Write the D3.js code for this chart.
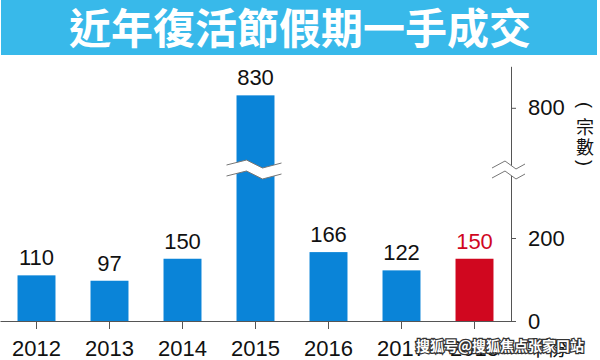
<!DOCTYPE html>
<html>
<head>
<meta charset="utf-8">
<script src="https://cdn.jsdelivr.net/npm/d3@7"></script>
<style>
  body { margin: 0; background: #fff; }
  svg { display: block; }
</style>
</head>
<body>
<div id="chart"></div>
<script>
// data
var years = ["2012", "2013", "2014", "2015", "2016", "2017", "2018"];
var deals = [110, 97, 150, 830, 166, 122, 150];
var yTicks = [0, 200, 800];
var title = "近年復活節假期一手成交";
var unitLabel = ["(", "宗", "數", ")"];
var xUnit = "年份";

var width = 600, height = 360;
var blue = "#0a84d8", red = "#d0071f";
var numFont = "Arial, 'Liberation Sans', sans-serif";
var cjkFont = "'Noto Sans CJK TC', 'Noto Sans CJK SC', sans-serif";

var svg = d3.select("#chart").append("svg")
    .attr("width", width)
    .attr("height", height);

// title banner
svg.append("rect")
    .attr("x", 1).attr("y", 0)
    .attr("width", 596).attr("height", 55)
    .attr("fill", "#38b9ea");

svg.append("text")
    .attr("x", 300).attr("y", 44)
    .attr("text-anchor", "middle")
    .attr("font-family", cjkFont)
    .attr("font-weight", "bold")
    .attr("font-size", 42)
    .attr("fill", "#fff")
    .text(title);

// scales - y is broken between ~360 and ~655
var x = d3.scaleBand().domain(years).range([0, 511])
    .paddingInner(0.48).paddingOuter(0.24);
var y = d3.scaleLinear()
    .domain([0, 360, 655, 900])
    .range([321, 171.6, 168, 66.3]);

// bars
svg.selectAll(".bar")
    .data(deals)
  .enter().append("rect")
    .attr("class", "bar")
    .attr("x", function(d, i) { return x(years[i]); })
    .attr("y", function(d) { return y(d); })
    .attr("width", x.bandwidth())
    .attr("height", function(d) { return y(0) - y(d); })
    .attr("fill", function(d, i) { return i == years.length - 1 ? red : blue; });

// value labels
svg.selectAll(".val")
    .data(deals)
  .enter().append("text")
    .attr("class", "val")
    .attr("x", function(d, i) { return x(years[i]) + x.bandwidth() / 2; })
    .attr("y", function(d) { return y(d) - 10; })
    .attr("text-anchor", "middle")
    .attr("font-family", numFont)
    .attr("font-size", 22)
    .attr("fill", function(d, i) { return i == years.length - 1 ? red : "#111"; })
    .text(function(d) { return d; });

// x axis
var xAxis = svg.append("g")
    .attr("transform", "translate(0," + y(0) + ")")
    .call(d3.axisBottom(x).tickSize(8).tickSizeOuter(0).tickPadding(11));
xAxis.select(".domain").attr("stroke", "#555");
xAxis.selectAll(".tick line").attr("stroke", "#555");
xAxis.selectAll("text")
    .attr("font-family", numFont)
    .attr("font-size", 22)
    .attr("fill", "#111");

// y axis on the right
var yAxis = svg.append("g")
    .attr("transform", "translate(511,0)")
    .call(d3.axisRight(y).tickValues(yTicks).tickSize(5).tickSizeOuter(0).tickPadding(12));
yAxis.select(".domain").attr("stroke", "#555");
yAxis.selectAll(".tick line").attr("stroke", "#555");
yAxis.selectAll("text")
    .attr("font-family", numFont)
    .attr("font-size", 22)
    .attr("fill", "#111");

// break marks (bar 2015 and axis)
var zig = d3.line().x(function(p) { return p[0]; }).y(function(p) { return p[1]; });
function breakMark(cx, cy, pts, gap) {
  var top = pts.map(function(p) { return [cx + p[0], cy + p[1]]; });
  var bot = pts.map(function(p) { return [cx + p[0], cy + p[1] + gap]; });
  svg.append("path")
      .attr("d", zig(top.concat(bot.slice().reverse())) + "Z")
      .attr("fill", "#fff");
  [top, bot].forEach(function(l) {
    svg.append("path")
        .attr("d", zig(l))
        .attr("fill", "none")
        .attr("stroke", "#777")
        .attr("stroke-width", 1);
  });
}
var cx15 = x("2015") + x.bandwidth() / 2;
breakMark(cx15, 165, [[-29, 0], [-9, -5], [7, 3], [26, -2]], 11);
breakMark(511, 167, [[-19, 1], [-6, -6], [5, 2], [14, -3]], 10);

// unit label (vertical)
var unitY = [105, 126, 146, 163];
unitLabel.forEach(function(c, i) {
  var cy = unitY[i];
  var t = svg.append("text")
      .attr("x", 585).attr("y", cy)
      .attr("text-anchor", "middle")
      .attr("dominant-baseline", "central")
      .attr("font-family", c == "(" || c == ")" ? numFont : cjkFont)
      .attr("font-size", 18)
      .attr("fill", "#111")
      .text(c);
  if (c == "(" || c == ")") t.attr("transform", "rotate(90,585," + cy + ")");
});

svg.append("text")
    .attr("x", 547).attr("y", 356)
    .attr("text-anchor", "middle")
    .attr("font-family", cjkFont)
    .attr("font-size", 20)
    .attr("fill", "#111")
    .text(xUnit);

// watermark
svg.append("text")
    .attr("x", 500).attr("y", 351)
    .attr("text-anchor", "middle")
    .attr("font-family", cjkFont)
    .attr("font-weight", "bold")
    .attr("font-size", 14)
    .attr("fill", "#fff")
    .attr("stroke", "#333")
    .attr("stroke-width", 2.5)
    .attr("paint-order", "stroke")
    .text("搜狐号@搜狐焦点张家口站");
</script>
</body>
</html>
